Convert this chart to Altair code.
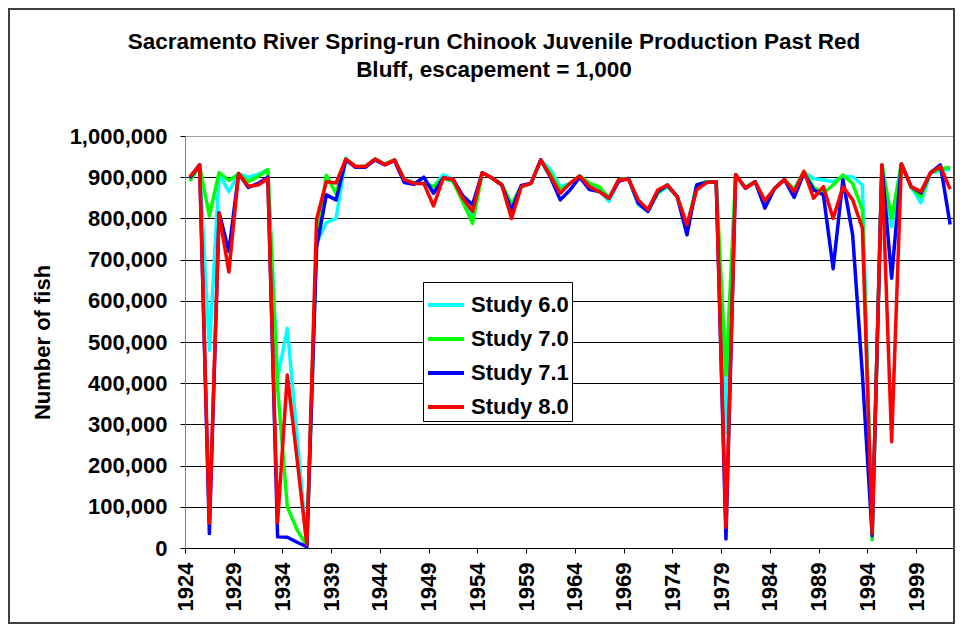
import altair as alt
import pandas as pd

# ---- data (thousands of fish), years 1924-2002 ----
years = list(range(1924, 2003))

study_6_0 = [895, 930, 480, 908, 865, 908, 900, 907, 918, 412,
             533, 270, 5, 740, 790, 800, 946, 926, 926, 944,
             932, 942, 896, 887, 885, 877, 906, 895, 845, 800,
             911, 898, 883, 833, 877, 885, 942, 918, 877, 885,
             903, 880, 870, 841, 894, 897, 833, 817, 861, 877,
             853, 780, 881, 889, 889, 280, 906, 875, 889, 835,
             873, 894, 870, 912, 897, 893, 889, 901, 901, 881,
             30, 930, 780, 932, 877, 838, 911, 915, 920]

study_7_0 = [891, 926, 806, 911, 892, 908, 889, 902, 918, 390,
             100, 44, 5, 745, 905, 860, 944, 926, 926, 944,
             932, 942, 894, 886, 885, 877, 898, 890, 840, 788,
             911, 898, 883, 833, 877, 885, 940, 910, 869, 885,
             903, 885, 877, 849, 894, 897, 841, 821, 861, 881,
             853, 780, 881, 889, 889, 420, 906, 875, 889, 840,
             873, 894, 870, 914, 875, 861, 881, 905, 885, 820,
             20, 930, 800, 932, 875, 853, 911, 920, 924]

study_7_1 = [898, 930, 35, 814, 720, 909, 875, 885, 900, 27,
             26, 14, 3, 730, 857, 845, 942, 924, 924, 942,
             930, 940, 887, 883, 900, 861, 898, 895, 855, 833,
             911, 898, 881, 820, 880, 885, 942, 900, 845, 869,
             900, 870, 865, 849, 890, 897, 837, 817, 865, 881,
             853, 760, 881, 887, 889, 22, 906, 873, 889, 825,
             873, 894, 851, 910, 869, 857, 678, 894, 760, 420,
             30, 928, 655, 932, 877, 862, 911, 930, 785]

study_8_0 = [901, 930, 60, 812, 670, 909, 878, 881, 897, 62,
             420, 215, 8, 798, 889, 886, 944, 926, 926, 944,
             930, 942, 894, 885, 885, 830, 898, 895, 849, 817,
             911, 898, 881, 800, 877, 885, 942, 902, 861, 885,
             903, 877, 865, 849, 894, 895, 845, 821, 869, 881,
             853, 785, 869, 887, 889, 50, 906, 873, 889, 843,
             873, 894, 865, 914, 849, 877, 800, 877, 845, 776,
             35, 930, 258, 932, 877, 865, 911, 926, 871]

series_names = ["Study 6.0", "Study 7.0", "Study 7.1", "Study 8.0"]
series_colors = ["#00FFFF", "#00FF00", "#0000FF", "#FF0000"]
x_tick_years = list(range(1924, 2000, 5))
y_ticks = list(range(0, 1000001, 100000))

rows = []
for name, vals in zip(series_names, [study_6_0, study_7_0, study_7_1, study_8_0]):
    for yr, v in zip(years, vals):
        rows.append({"year": yr, "series": name, "fish": v * 1000})
df = pd.DataFrame(rows)

FONT = "Liberation Sans, Arial, sans-serif"

frame = alt.Chart(alt.Data(values=[{"a": 1}])).mark_rect(
    fill="white", fillOpacity=0, stroke="#404040", strokeWidth=2
).encode(
    x=alt.value(-176), x2=alt.value(769), y=alt.value(-127), y2=alt.value(487)
)

lines = alt.Chart(df).mark_line(strokeWidth=3.5, strokeJoin="round").transform_calculate(
    xpos="datum.year + 0.5"
).encode(
    x=alt.X("xpos:Q",
            scale=alt.Scale(domain=[1924, 2003], nice=False, zero=False),
            axis=alt.Axis(values=x_tick_years, format="d", labelAngle=270,
                          title=None, grid=False, tickSize=5, tickColor="black",
                          domainColor="black", labelPadding=9, labelFlush=False,
                          labelOverlap=False,
                          labelFont=FONT, labelFontSize=22, labelFontWeight="bold",
                          labelColor="black")),
    y=alt.Y("fish:Q",
            scale=alt.Scale(domain=[0, 1000000], nice=False),
            axis=alt.Axis(values=y_ticks, format=",d", title="Number of fish",
                          tickSize=5, tickColor="black", domainColor="#808080",
                          labelPadding=13, titleX=-143, titleY=206, titleAngle=270,
                          titleAlign="center", titleBaseline="middle",
                          labelFont=FONT, labelFontSize=22, labelFontWeight="bold",
                          labelColor="black",
                          titleFont=FONT, titleFontSize=22, titleFontWeight="bold",
                          titleColor="black",
                          gridColor={"condition": {"test": "datum.value >= 1000000", "value": "#a0a0a0"},
                                     "value": "black"})),
    color=alt.Color("series:N",
                    scale=alt.Scale(domain=series_names, range=series_colors),
                    legend=alt.Legend(title=None, orient="none", legendX=238, legendY=146,
                                      symbolType="stroke", symbolSize=1296, symbolStrokeWidth=4,
                                      labelFontSize=22, labelFontWeight="bold", labelFont=FONT,
                                      labelColor="black", labelLimit=0, labelOffset=5,
                                      rowPadding=3, padding=3, strokeColor="black",
                                      fillColor="white", direction="vertical")),
)

chart = alt.layer(frame, lines).properties(
    width=770, height=412,
    padding={"left": 177, "top": 128, "right": 0, "bottom": 76},
    autosize=alt.AutoSizeParams(type="none"),
    background="white",
    title=alt.TitleParams(
        text=["Sacramento River Spring-run Chinook Juvenile Production Past Red",
              "Bluff, escapement = 1,000"],
        fontSize=22.5, fontWeight="bold", font=FONT, color="black",
        lineHeight=28, anchor="middle", dx=-76, offset=-73),
).configure_view(
    stroke="#808080", strokeWidth=1
).configure_axis(
    gridWidth=1, domainWidth=1
)

chart.save("out.html", embed_options={"renderer": "svg", "actions": False})
